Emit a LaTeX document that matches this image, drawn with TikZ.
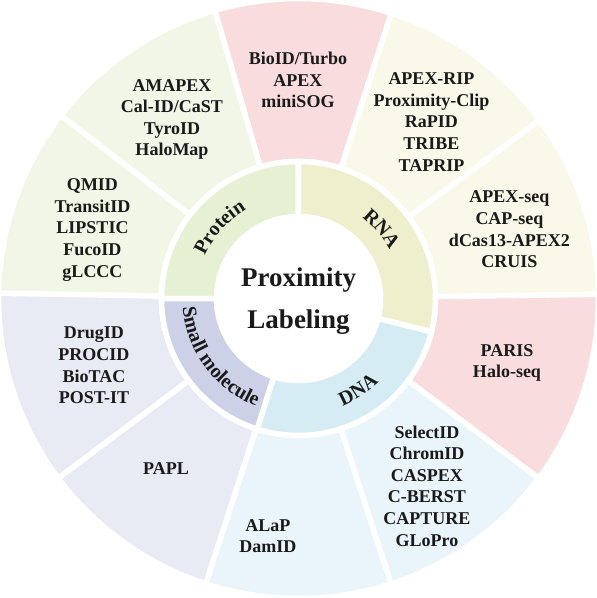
\documentclass[tikz,border=0pt]{standalone}
\usepackage{fontspec}
\setmainfont{Liberation Serif}
\usetikzlibrary{decorations.text}
\definecolor{pinkc}{RGB}{249,221,222}
\definecolor{protO}{RGB}{241,246,230}
\definecolor{protI}{RGB}{230,241,212}
\definecolor{rnaO}{RGB}{250,248,232}
\definecolor{rnaI}{RGB}{239,239,206}
\definecolor{dnaO}{RGB}{234,244,251}
\definecolor{dnaI}{RGB}{214,236,244}
\definecolor{smO}{RGB}{232,234,244}
\definecolor{smI}{RGB}{205,209,232}
\definecolor{txt}{RGB}{26,26,26}
\newcommand\olfont{\fontsize{18}{21.6}\selectfont\bfseries}
\newcommand\ilfont{\fontsize{20}{24}\selectfont\bfseries\color{txt}}
\newcommand\ttlfont{\fontsize{27}{32}\selectfont\bfseries}
\newcommand\annsec[5]{\path[secstyle, fill=#1] (#2:#4) arc[start angle=#2, end angle=#3, radius=#4] -- (#3:#5) arc[start angle=#3, end angle=#2, radius=#5] -- cycle;}
\tikzset{
  secstyle/.style={draw=white, line width=5.5pt, line join=miter},
  lbl/.style={font=\olfont, align=center, text=txt, inner sep=0pt},
  ttl/.style={font=\ttlfont, text=txt, anchor=base, inner sep=0pt},
  arclbl/.style={decorate, decoration={text along path, text align=center, text={|\ilfont|#1}}}
}
\begin{document}
\begin{tikzpicture}
\useasboundingbox (-298.5pt,-299.5pt) rectangle (298.5pt,298.5pt);
% outer ring
\annsec{rnaO}{0.8}{36.5}{137pt}{300pt}
\annsec{rnaO}{36.5}{72}{137pt}{300pt}
\annsec{pinkc}{72}{106.2}{137pt}{300pt}
\annsec{protO}{106.2}{142.4}{137pt}{300pt}
\annsec{protO}{142.4}{179}{137pt}{300pt}
\annsec{smO}{179}{216.8}{137pt}{300pt}
\annsec{smO}{216.8}{252}{137pt}{300pt}
\annsec{dnaO}{252}{288}{137pt}{300pt}
\annsec{dnaO}{288}{323.2}{137pt}{300pt}
\annsec{pinkc}{323.2}{360.8}{137pt}{300pt}
% inner ring
\annsec{protI}{90}{180}{82pt}{137pt}
\annsec{smI}{180}{252.5}{82pt}{137pt}
\annsec{dnaI}{252.5}{346}{82pt}{137pt}
\annsec{rnaI}{-14}{90}{82pt}{137pt}
% inner ring labels
\path[arclbl={Protein}] (178:103pt) arc[start angle=178, end angle=98, radius=103pt];
\path[arclbl={RNA}] (88:103pt) arc[start angle=88, end angle=-8, radius=103pt];
\path[arclbl={DNA}] (-105:116pt) arc[start angle=-105, end angle=-9, radius=116pt];
\path[arclbl={Small molecule}] (168.5:116pt) arc[start angle=168.5, end angle=264.5, radius=116pt];
% title
\node[ttl] (t1) at (0pt,11.8pt) {Proximity};
\node[ttl] (t2) at (0pt,-29.5pt) {Labeling};
% outer labels
\node[lbl] (bio) at (-0.5pt,218.5pt) {BioID/Turbo\\APEX\\miniSOG};
\node[lbl] (ama) at (-126.5pt,179pt) {AMAPEX\\Cal-ID/CaST\\TyroID\\HaloMap};
\node[lbl] (qmid) at (-206pt,68.5pt) {QMID\\TransitID\\LIPSTIC\\FucoID\\gLCCC};
\node[lbl] (drug) at (-204.5pt,-67pt) {DrugID\\PROCID\\BioTAC\\POST-IT};
\node[lbl] (papl) at (-132.5pt,-170.5pt) {PAPL};
\node[lbl] (alap) at (-30.5pt,-237.5pt) {ALaP\\DamID};
\node[lbl] (sel) at (128.5pt,-187.5pt) {SelectID\\ChromID\\CASPEX\\C-BERST\\CAPTURE\\GLoPro};
\node[lbl] (paris) at (208.5pt,-64.5pt) {PARIS\\Halo-seq};
\node[lbl] (apseq) at (211pt,69pt) {APEX-seq\\CAP-seq\\dCas13-APEX2\\CRUIS};
\node[lbl] (aprip) at (133pt,176.5pt) {APEX-RIP\\Proximity-Clip\\RaPID\\TRIBE\\TAPRIP};
\end{tikzpicture}
\end{document}
